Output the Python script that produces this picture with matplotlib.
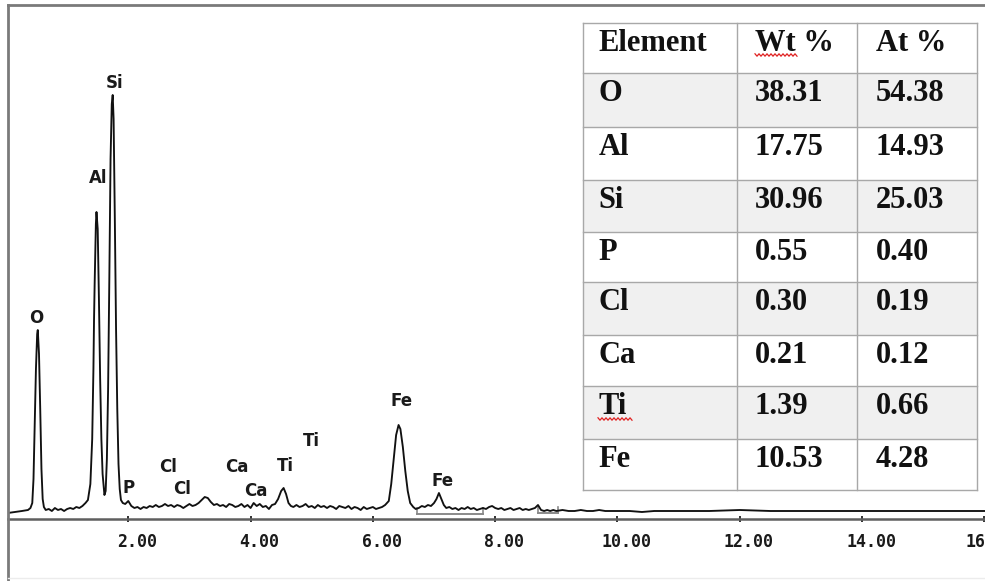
import numpy as np
import matplotlib
matplotlib.use("Agg")
import matplotlib.pyplot as plt
from matplotlib.lines import Line2D
from matplotlib.patches import Rectangle
from matplotlib.transforms import ScaledTranslation

# ---------------- data ----------------
energy = [0.03, 0.15, 0.26, 0.36, 0.40, 0.43, 0.45, 0.47, 0.49, 0.51, 0.52, 0.54, 0.56, 0.58, 0.60, 0.62, 0.65,
          0.70, 0.75, 0.80, 0.85, 0.90, 0.95, 1.00, 1.05, 1.10, 1.15, 1.20, 1.25, 1.30,
          1.34, 1.38, 1.41, 1.43, 1.44, 1.45, 1.47, 1.48, 1.50, 1.52, 1.54, 1.56, 1.58, 1.61,
          1.63, 1.65, 1.67, 1.69, 1.71, 1.73, 1.745, 1.76, 1.78, 1.80, 1.82, 1.84, 1.86, 1.88, 1.91,
          1.95, 2.00, 2.05, 2.10, 2.15, 2.20, 2.25, 2.30, 2.35, 2.40, 2.45, 2.50, 2.55, 2.60, 2.65,
          2.70, 2.75, 2.80, 2.85, 2.90, 2.95, 3.00, 3.05, 3.10, 3.15, 3.20, 3.25, 3.30, 3.35, 3.40,
          3.45, 3.50, 3.55, 3.60, 3.65, 3.70, 3.75, 3.80, 3.85, 3.90, 3.95, 4.00, 4.05, 4.10, 4.15,
          4.20, 4.25, 4.30, 4.35, 4.40, 4.45, 4.50, 4.54, 4.58, 4.62, 4.66, 4.70, 4.75, 4.80, 4.85,
          4.90, 4.95, 5.00, 5.05, 5.10, 5.15, 5.20, 5.25, 5.30, 5.35, 5.40, 5.45, 5.50, 5.55, 5.60,
          5.65, 5.70, 5.75, 5.80, 5.85, 5.90, 5.95, 6.00, 6.05, 6.10, 6.15, 6.20,
          6.26, 6.30, 6.34, 6.38, 6.42, 6.45, 6.49, 6.53, 6.57, 6.61, 6.66,
          6.70, 6.75, 6.80, 6.85, 6.90, 6.95, 7.00, 7.04, 7.08, 7.12, 7.16, 7.20, 7.25, 7.30, 7.35,
          7.40, 7.45, 7.50, 7.55, 7.60, 7.65, 7.70, 7.75, 7.80, 7.85, 7.90, 7.95, 8.00, 8.05, 8.10,
          8.15, 8.20, 8.25, 8.30, 8.35, 8.40, 8.45, 8.50, 8.55, 8.60, 8.65, 8.70, 8.75, 8.80, 8.85,
          8.90, 8.95, 9.00, 9.10, 9.20, 9.30, 9.40, 9.50, 9.60, 9.70, 9.80, 9.90, 10.0, 10.2, 10.4,
          10.6, 10.8, 11.0, 11.5, 12.0, 12.5, 13.0, 13.5, 14.0, 14.5, 15.0, 15.5, 16.0]
counts = [6, 7, 8, 9, 11, 16, 40, 95, 150, 185, 189, 165, 110, 50, 20, 12, 9,
          10, 8, 11, 9, 10, 8, 10, 11, 10, 12, 11, 13, 16,
          19, 35, 80, 150, 200, 235, 295, 307, 290, 220, 140, 80, 45, 24,
          28, 60, 130, 240, 360, 415, 424, 400, 300, 190, 110, 55, 30, 19, 16,
          15, 18, 13, 11, 12, 10, 12, 11, 13, 12, 14, 12, 13, 15, 13,
          14, 12, 14, 13, 11, 13, 15, 13, 14, 16, 19, 22, 21, 17, 14,
          15, 13, 14, 12, 15, 14, 12, 13, 15, 12, 14, 11, 16, 13, 15,
          12, 13, 10, 14, 15, 20, 28, 31, 25, 16, 13, 12, 14, 12, 13,
          15, 12, 13, 11, 14, 12, 13, 11, 13, 12, 10, 13, 12, 11, 13,
          10, 12, 11, 9, 12, 10, 11, 12, 10, 11, 12, 14,
          18, 35, 60, 84, 94, 90, 72, 48, 28, 16, 12,
          10, 11, 13, 12, 14, 13, 16, 20, 26, 20, 14, 11, 12, 10, 11,
          9, 11, 10, 12, 10, 11, 9, 10, 11, 10, 12, 13, 11, 10, 11,
          9, 10, 11, 9, 10, 11, 9, 10, 9, 10, 11, 14, 9, 8, 9,
          8, 9, 8, 9, 8, 8, 9, 8, 8, 9, 8, 8, 8, 8, 7,
          8, 8, 8, 8, 9, 8, 8, 8, 8, 8, 8, 8, 8]

peak_labels = ["Si", "Al", "O", "P", "Cl", "Cl", "Ca", "Ca", "Ti", "Ti", "Fe", "Fe"]
label_energy = [1.774, 1.504, 0.502, 2.011, 2.649, 2.878, 3.778, 4.088, 4.563, 4.988, 6.476, 7.146]
label_counts = [436, 341, 201, 31, 52, 30, 52, 28, 53, 78, 118, 38]

roi_start = [6.72, 8.70]
roi_end = [7.80, 9.03]
roi_level = [5, 6]

tick_values = [2, 4, 6, 8, 10, 12, 14, 16]
tick_labels = ["2.00", "4.00", "6.00", "8.00", "10.00", "12.00", "14.00", "16"]

table_header = ["Element", "Wt %", "At %"]
elements = ["O", "Al", "Si", "P", "Cl", "Ca", "Ti", "Fe"]
wt_pct = ["38.31", "17.75", "30.96", "0.55", "0.30", "0.21", "1.39", "10.53"]
at_pct = ["54.38", "14.93", "25.03", "0.40", "0.19", "0.12", "0.66", "4.28"]

# ---------------- figure ----------------
W, H = 985, 581
fig = plt.figure(figsize=(W / 100, H / 100), dpi=100)
fig.patch.set_facecolor("white")

ax_left, ax_right, ax_top, ax_bot = 8, 985, 5, 519
ax = fig.add_axes([ax_left / W, (H - ax_bot) / H, (ax_right - ax_left) / W, (ax_bot - ax_top) / H])
ax.set_xlim(0.033, 16.01)
ax.set_ylim(0, 514)
ax.patch.set_alpha(0)

ax.plot(energy, counts, color="#111111", lw=1.35, solid_joinstyle="round", zorder=3)

for s, e, lv in zip(roi_start, roi_end, roi_level):
    ax.plot([s, e], [lv, lv], color="#8a8a8a", lw=1.4, zorder=2)
    ax.plot([s, s], [lv, lv + 6], color="#8a8a8a", lw=1.2, zorder=2)
    ax.plot([e, e], [lv, lv + 6], color="#8a8a8a", lw=1.2, zorder=2)

for t, xe, yc in zip(peak_labels, label_energy, label_counts):
    ax.text(xe, yc, t, ha="center", va="center", fontsize=12, fontweight="bold",
            family="DejaVu Sans", color="#1a1a1a", zorder=4)

for side in ["top", "right", "left"]:
    ax.spines[side].set_visible(False)
ax.spines["bottom"].set_color("#5f5f5f")
ax.spines["bottom"].set_linewidth(1.8)
ax.set_yticks([])
ax.set_xticks(tick_values)
ax.set_xticklabels(tick_labels)
ax.tick_params(axis="x", direction="inout", length=5, width=1.3, color="#222222", pad=7.5,
               labelsize=12, labelcolor="#1a1a1a")
labs = ax.get_xticklabels()
for k, lab in enumerate(labs):
    lab.set_fontfamily("DejaVu Sans Mono")
    lab.set_fontweight("bold")
    dx = 9 if k < len(labs) - 1 else -9
    lab.set_transform(lab.get_transform() + ScaledTranslation(dx / 100, 0, fig.dpi_scale_trans))

# ---------------- overlay (frame + table) in pixel coordinates ----------------
ov = fig.add_axes([0, 0, 1, 1])
ov.set_xlim(0, W)
ov.set_ylim(H, 0)
ov.axis("off")
ov.patch.set_alpha(0)

ov.add_line(Line2D([8, 985], [5, 5], color="#7a7a7a", lw=2.0))
ov.add_line(Line2D([8, 8], [5, 581], color="#7a7a7a", lw=2.0))
ov.add_line(Line2D([8, 985], [578, 578], color="#ececec", lw=1.0))

col_edges = [582.7, 736.7, 856.7, 977.0]
row_edges = [22.7, 73, 127, 180, 232, 282, 335, 386, 439, 490]
grid_c = "#a8a8a8"

rows = [table_header] + [[e, w, a] for e, w, a in zip(elements, wt_pct, at_pct)]
for i, row in enumerate(rows):
    top, bot = row_edges[i], row_edges[i + 1]
    fc = "#f0f0f0" if (i % 2 == 1) else "white"
    ov.add_patch(Rectangle((col_edges[0], top), col_edges[-1] - col_edges[0], bot - top,
                           facecolor=fc, edgecolor="none", zorder=1))
    pads = [16, 18, 19]
    for j, txt in enumerate(row):
        ov.text(col_edges[j] + pads[j], top + 28, txt, ha="left", va="baseline",
                fontsize=22, fontweight="bold", family="Liberation Serif", color="#111111", zorder=3)

for y in row_edges:
    ov.add_line(Line2D([col_edges[0], col_edges[-1]], [y, y], color=grid_c, lw=1.0, zorder=2))
for x in col_edges:
    ov.add_line(Line2D([x, x], [row_edges[0], row_edges[-1]], color=grid_c, lw=1.0, zorder=2))

# red spell-check wavy underlines (decoration)
def wavy(x0, x1, y):
    xs = np.arange(x0, x1 + 0.1, 2.0)
    ys = y + np.where(np.arange(len(xs)) % 2 == 0, -1.2, 1.2)
    ov.add_line(Line2D(xs, ys, color="#e02020", lw=0.9, zorder=4))

wavy(755, 798, 55)
wavy(598, 632, 419)

fig.savefig("out.png", dpi=100, facecolor="white")
